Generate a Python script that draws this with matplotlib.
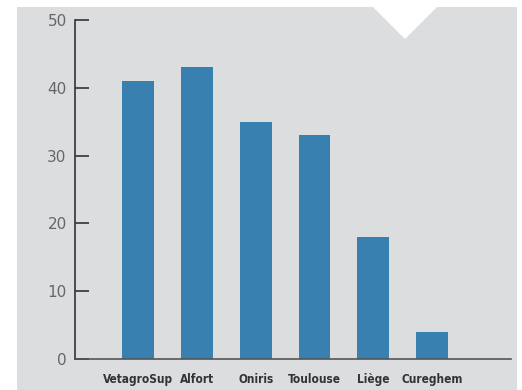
import matplotlib
matplotlib.use('Agg')
import matplotlib.pyplot as plt
from matplotlib.patches import Rectangle, Polygon
from matplotlib import font_manager

schools = ['VetagroSup', 'Alfort', 'Oniris', 'Toulouse', 'Liège', 'Cureghem']
counts = [41, 43, 35, 33, 18, 4]
yticks = [0, 10, 20, 30, 40, 50]

names = {f.name for f in font_manager.fontManager.ttflist}
cond = 'DejaVu Sans'
for cand in ['Liberation Sans Narrow', 'DejaVu Sans Condensed']:
    if cand in names:
        cond = cand
        break

W, H = 522, 390
fig = plt.figure(figsize=(W / 100, H / 100), dpi=100)
fig.patch.set_facecolor('white')

# grey panel and white notch at the top
fig.patches.append(Rectangle((17 / W, 0), 500 / W, 1 - 7 / H, transform=fig.transFigure,
                             facecolor='#dcdddf', edgecolor='none', zorder=-2))
fig.patches.append(Polygon([(373 / W, 1 - 7 / H), (437 / W, 1 - 7 / H), (405 / W, 1 - 39 / H)],
                           closed=True, transform=fig.transFigure,
                           facecolor='white', edgecolor='none', zorder=-1))

ax = fig.add_axes([75 / W, 1 - 359 / H, (511 - 75) / W, (359 - 20) / H])
ax.set_facecolor('none')

x = range(len(schools))
ax.bar(x, counts, width=0.54, color='#3780b0', zorder=2)

ax.set_xlim(-1.07, 6.34)
ax.set_ylim(0, 50)
ax.set_yticks(yticks)
ax.set_xticks(list(x))
ax.set_xticklabels(schools, fontfamily=cond, fontweight='bold', fontstretch='condensed',
                   fontsize=8.5, color='#333333')
ax.set_yticklabels([str(v) for v in yticks], fontfamily=cond, fontsize=11, color='#666666')

for s in ['top', 'right']:
    ax.spines[s].set_visible(False)
ax.spines['left'].set_color('#333333')
ax.spines['bottom'].set_color('#555555')
ax.spines['left'].set_linewidth(1.2)
ax.spines['bottom'].set_linewidth(1.2)

ax.tick_params(axis='y', direction='in', length=10, width=1.2, color='#333333', pad=6)
ax.tick_params(axis='x', length=0, pad=10)

fig.savefig('out.png', dpi=100)
